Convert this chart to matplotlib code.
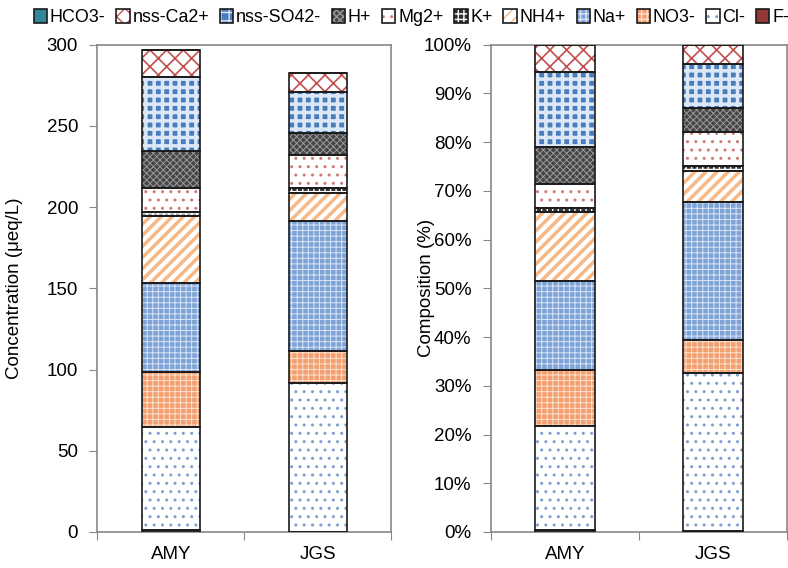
import matplotlib
matplotlib.use("Agg")
import matplotlib.pyplot as plt
import numpy as np
from matplotlib.legend_handler import HandlerTuple
from matplotlib.ticker import FuncFormatter

plt.rcParams["font.family"] = ["Liberation Sans", "DejaVu Sans"]
plt.rcParams["font.size"] = 13.5

sites = ["AMY", "JGS"]
# stacking order, bottom to top (ueq/L)
ions = ["F-", "Cl-", "NO3-", "Na+", "NH4+", "K+", "Mg2+", "H+", "nss-SO42-", "nss-Ca2+", "HCO3-"]
f_ion = [1.2, 0.3]
cl_ion = [63.6, 91.7]
no3_ion = [33.5, 19.5]
na_ion = [54.7, 79.9]
nh4_ion = [41.5, 17.5]
k_ion = [2.6, 3.1]
mg_ion = [14.8, 19.8]
h_ion = [22.6, 13.8]
so4_ion = [45.3, 25.4]
ca_ion = [16.8, 11.3]
hco3_ion = [0.0, 0.0]

values = np.array([f_ion, cl_ion, no3_ion, na_ion, nh4_ion, k_ion, mg_ion,
                   h_ion, so4_ion, ca_ion, hco3_ion])

# face colour, hatch, hatch colour, hatch width
styles = {
    "F-": ("#953735", "", "#953735", 1.0),
    "Cl-": ("white", "..", "#7F9FCF", 1.0),
    "NO3-": ("#F2A070", "+++", "#FBE0CF", 0.7),
    "Na+": ("#7EA3D6", "+++", "#D9E5F5", 0.7),
    "NH4+": ("white", "///", "#F5B886", 2.5),
    "K+": ("#303030", "+++", "white", 1.0),
    "Mg2+": ("white", "..", "#D07A78", 1.0),
    "H+": ("#454545", "xxxxx", "#9A9A9A", 0.7),
    "nss-SO42-": ("#4A7DBE", "++", "#DCE8F6", 2.5),
    "nss-Ca2+": ("white", "xx", "#C0504D", 1.2),
    "HCO3-": ("#31859C", "", "#31859C", 1.0),
}

x = np.array([0.5, 1.5])
width = 0.4
spine_color = "#888888"

fig = plt.figure(figsize=(7.88, 5.68), dpi=100)
ax1 = fig.add_axes([0.1237, 0.0634, 0.373, 0.858])
ax2 = fig.add_axes([0.623, 0.0634, 0.3757, 0.858])


def draw_stack(ax, data):
    bottom = np.zeros(len(sites))
    handles = {}
    for ion, row in zip(ions, data):
        face, hatch, hcolor, hlw = styles[ion]
        fill = ax.bar(x, row, width, bottom=bottom, color=face, hatch=hatch,
                      edgecolor=hcolor, linewidth=0, zorder=2)
        for p in fill:
            if hasattr(p, "set_hatch_linewidth"):
                p.set_hatch_linewidth(hlw)
        outline = ax.bar(x, row, width, bottom=bottom, fill=False,
                         edgecolor="#1a1a1a", linewidth=1.2, zorder=3)
        handles[ion] = (fill.patches[0], outline.patches[0])
        bottom += row
    return handles


handles = draw_stack(ax1, values)
totals = values.sum(axis=0)
draw_stack(ax2, values / totals * 100)

for ax in (ax1, ax2):
    ax.set_xlim(0, 2)
    ax.set_xticks([0, 1, 2])
    ax.set_xticklabels([])
    ax.set_xticks(x, minor=True)
    ax.set_xticklabels(sites, minor=True)
    ax.tick_params(axis="x", which="major", direction="out", length=6, color=spine_color)
    ax.tick_params(axis="x", which="minor", length=0, pad=10)
    ax.tick_params(axis="y", direction="out", length=6, color=spine_color, pad=8)
    for s in ax.spines.values():
        s.set_color(spine_color)
        s.set_linewidth(1.2)

ax1.set_ylim(0, 300)
ax1.set_yticks(np.arange(0, 301, 50))
ax1.set_ylabel("Concentration (\u03bceq/L)", labelpad=17)

ax2.set_ylim(0, 100)
ax2.set_yticks(np.arange(0, 101, 10))
ax2.yaxis.set_major_formatter(FuncFormatter(lambda v, _: f"{v:.0f}%"))
ax2.set_ylabel("Composition (%)", labelpad=-8)

order = ions[::-1]
fig.legend([handles[i] for i in order], order, loc="upper center",
           bbox_to_anchor=(0.522, 1.012), ncol=len(order), frameon=False,
           handler_map={tuple: HandlerTuple(ndivide=1, pad=0)},
           handlelength=0.75, handleheight=0.75, handletextpad=0.15,
           columnspacing=0.6, fontsize=12.9)

fig.savefig("out.png", dpi=100)
